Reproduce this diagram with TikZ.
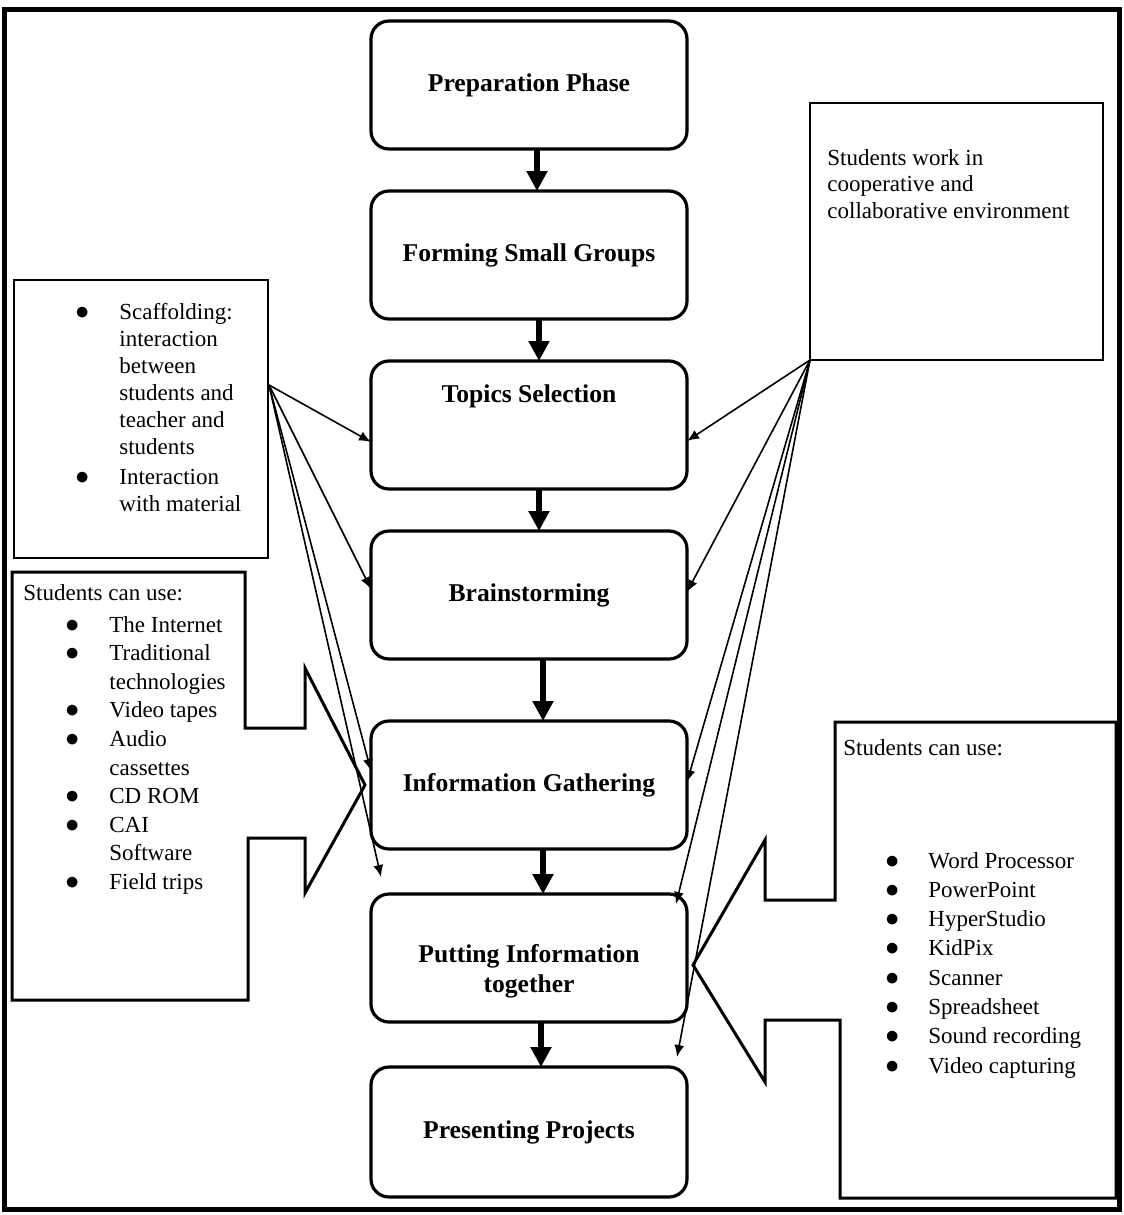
\documentclass[tikz,border=0pt]{standalone}
\usepackage{fontspec}
\setmainfont{Liberation Serif}
\usetikzlibrary{arrows.meta, positioning}

\newcommand{\blt}{\scalebox{1.15}{$\bullet$}}

\begin{document}
\begin{tikzpicture}[
  x=0.5pt, y=-0.5pt,
  stage/.style={rectangle, draw, rounded corners=9pt, line width=1.6pt, outer sep=0pt, minimum width=158pt, minimum height=64pt, align=center, font=\bfseries\fontsize{12.8}{15}\selectfont},
  note/.style={rectangle, draw, line width=1.4pt, inner sep=0pt, outer sep=0pt, anchor=north west},
  callout/.style={draw, line width=1.5pt},
  txt/.style={inner sep=0pt, anchor=base west, font=\fontsize{11.5}{13.5}\selectfont},
  flow/.style={-{Triangle[length=10pt, width=10pt]}, line width=3pt},
  link/.style={-{Latex[length=6pt, width=5pt]}, line width=0.8pt}
]
\useasboundingbox (0,0) rectangle (1124,1215);
\draw[line width=2.5pt] (4,9) rectangle (1119,1209);

% main phases
\node[stage] (prep) at (529,85) {Preparation Phase};
\node[stage, below=21pt of prep] (groups) {Forming Small Groups};
\node[stage, below=21pt of groups, inner ysep=0pt, text height=20.5pt, text depth=43.5pt] (topics) {Topics Selection};
\node[stage, below=21pt of topics] (brain) {Brainstorming};
\node[stage, below=31pt of brain] (gather) {Information Gathering};
\node[stage, below=22.5pt of gather, inner ysep=0pt, text height=34pt, text depth=30pt] (putting) {\begin{tabular}[t]{@{}c@{}}Putting Information\\together\end{tabular}};
\node[stage, below=22.5pt of putting, minimum height=65pt] (present) {Presenting Projects};

\draw[flow] ([xshift=4pt]prep.south) -- ([xshift=4pt]groups.north);
\draw[flow] ([xshift=5pt]groups.south) -- ([xshift=5pt]topics.north);
\draw[flow] ([xshift=5pt]topics.south) -- ([xshift=5pt]brain.north);
\draw[flow] ([xshift=7pt]brain.south) -- ([xshift=7pt]gather.north);
\draw[flow] ([xshift=7pt]gather.south) -- ([xshift=7pt]putting.north);
\draw[flow] ([xshift=6pt]putting.south) -- ([xshift=6pt]present.north);

% side boxes
\node[note, minimum width=127pt, minimum height=139pt] (scaff) at (14,280) {};
\node[txt] (scafftext) at (75,319) {\begin{tabular}[t]{@{}p{22pt}@{}l@{}}
  \blt & Scaffolding:\\
  & interaction\\
  & between\\
  & students and\\
  & teacher and\\
  & students\\[1.5pt]
  \blt & Interaction\\
  & with material
\end{tabular}};

\node[note, minimum width=146.5pt, minimum height=128.5pt] (coop) at (810,103) {};
\node[txt, font=\fontsize{11.5}{13.25}\selectfont] (cooptext) at (827,165) {\begin{tabular}[t]{@{}l@{}}
  Students work in\\
  cooperative and\\
  collaborative environment
\end{tabular}};

% callouts
\draw[callout] (12,572) -- (245,572) -- (245,728) -- (305,728) -- (305,668) -- (365,785)
  -- (305,893) -- (305,838) -- (248,838) -- (248,1000) -- (12,1000) -- cycle;
\node[txt] (lefthead) at (23,600) {Students can use:};
\node[txt, font=\fontsize{11.5}{14.3}\selectfont] (lefttools) at (65,632) {\begin{tabular}[t]{@{}p{22pt}@{}l@{}}
  \blt & The Internet\\
  \blt & Traditional\\
  & technologies\\
  \blt & Video tapes\\
  \blt & Audio\\
  & cassettes\\
  \blt & CD ROM\\
  \blt & CAI\\
  & Software\\
  \blt & Field trips
\end{tabular}};

\draw[callout] (835,722) -- (1116,722) -- (1116,1198) -- (840,1198) -- (840,1020) -- (765,1020)
  -- (765,1082) -- (693,965) -- (765,840) -- (765,900) -- (835,900) -- cycle;
\node[txt] (righthead) at (843,755) {Students can use:};
\node[txt, font=\fontsize{11.5}{14.65}\selectfont] (righttools) at (885,868) {\begin{tabular}[t]{@{}p{21.5pt}@{}l@{}}
  \blt & Word Processor\\
  \blt & PowerPoint\\
  \blt & HyperStudio\\
  \blt & KidPix\\
  \blt & Scanner\\
  \blt & Spreadsheet\\
  \blt & Sound recording\\
  \blt & Video capturing
\end{tabular}};

% thin connectors
\coordinate (scaffout) at ([shift={(1,105)}]scaff.north east);
\draw[link] (scaffout) -- ([yshift=-8.5pt]topics.west);
\draw[link] (scaffout) -- ([yshift=3pt]brain.west);
\draw[link] (scaffout) -- ([yshift=7pt]gather.west);
\draw[link] (scaffout) -- ([shift={(10,-17)}]putting.north west);

\draw[link] (coop.south west) -- ([yshift=-8pt]topics.east);
\draw[link] (coop.south west) -- ([yshift=1.5pt]brain.east);
\draw[link] (coop.south west) -- ([yshift=1.5pt]gather.east);
\draw[link] (coop.south west) -- ([shift={(-11,10)}]putting.north east);
\draw[link] (coop.south west) -- ([shift={(-10,-10)}]present.north east);
\end{tikzpicture}
\end{document}
